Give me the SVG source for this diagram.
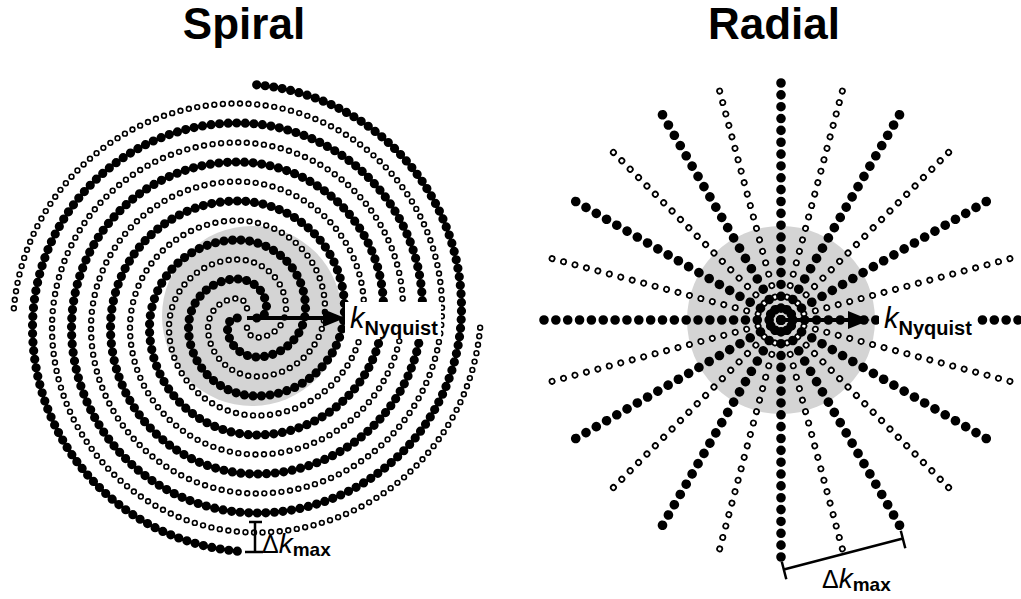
<svg xmlns="http://www.w3.org/2000/svg" xmlns:xlink="http://www.w3.org/1999/xlink" width="1021" height="599" viewBox="0 0 1021 599">
<style>
.title{font-family:"Liberation Sans",Arial,sans-serif;font-weight:bold;font-size:44px;text-anchor:middle;fill:#000}
.lbl{font-family:"Liberation Sans",Arial,sans-serif;fill:#000}
.it{font-style:italic}
.sub{font-weight:bold}
.disc{fill:#d4d4d4}
.f{fill:none;stroke:#000;stroke-width:9.2;stroke-linecap:round;stroke-dasharray:0 8.6}
.ho{fill:none;stroke:#000;stroke-width:6.4;stroke-linecap:round;stroke-dasharray:0 8.6}
.hi{fill:none;stroke:#fff;stroke-width:3.2;stroke-linecap:round;stroke-dasharray:0 8.6}
.rf{fill:none;stroke:#000;stroke-width:9.6;stroke-linecap:round;stroke-dasharray:0 11.85}
.rho{fill:none;stroke:#000;stroke-width:7;stroke-linecap:round;stroke-dasharray:0 11.85}
.rhi{fill:none;stroke:#fff;stroke-width:3.4;stroke-linecap:round;stroke-dasharray:0 11.85}
.arr{fill:none;stroke:#000;stroke-width:4;marker-end:url(#ah)}
.bar{fill:none;stroke:#000;stroke-width:2.5}
</style>
<defs>
<marker id="ah" markerUnits="userSpaceOnUse" markerWidth="26" markerHeight="20" refX="2" refY="9" orient="auto">
<path d="M0,0 L22,9 L0,18 Z" fill="#000"/>
</marker>
<path id="arm" d="M237.25,318 A9.75,9.75 0 0 0 227.5,327.75 A29.25,29.25 0 0 0 256.75,357 A48.75,48.75 0 0 0 305.5,308.25 A68.25,68.25 0 0 0 237.25,240 A87.75,87.75 0 0 0 149.5,327.75 A107.25,107.25 0 0 0 256.75,435 A126.75,126.75 0 0 0 383.5,308.25 A146.25,146.25 0 0 0 237.25,162 A165.75,165.75 0 0 0 71.5,327.75 A185.25,185.25 0 0 0 256.75,513 A204.75,204.75 0 0 0 461.5,308.25 A224.25,224.25 0 0 0 256,84.8"/>
<line id="spoke" x1="544" y1="320" x2="1018.3" y2="320"/>
</defs>
<rect width="1021" height="599" fill="#fff"/>

<g id="spiral-panel">
<text class="title" x="244" y="39">Spiral</text>
<circle class="disc" cx="252" cy="316" r="90"/>
<g id="spiral-arms">
<use xlink:href="#arm" class="ho" transform="rotate(90 247 318)"/>
<use xlink:href="#arm" class="hi" transform="rotate(90 247 318)"/>
<use xlink:href="#arm" class="ho" transform="rotate(-90 247 318)"/>
<use xlink:href="#arm" class="hi" transform="rotate(-90 247 318)"/>
<use xlink:href="#arm" class="f"/>
<use xlink:href="#arm" class="f" transform="rotate(180 247 318)"/>
</g>
<g id="spiral-delta">
<path class="bar" d="M255,522 V552 M249,522 H262 M245,552 H263"/>
<text class="lbl" x="262" y="553" font-size="25">Δ<tspan class="it" font-size="28">k</tspan><tspan class="sub" font-size="19" dy="3">max</tspan></text>
</g>
</g>

<g id="radial-panel">
<text class="title" x="774" y="39">Radial</text>
<circle class="disc" cx="781" cy="320" r="94"/>
<g id="radial-spokes">
<g transform="rotate(15 781 320)"><use xlink:href="#spoke" class="rho"/><use xlink:href="#spoke" class="rhi"/></g>
<g transform="rotate(45 781 320)"><use xlink:href="#spoke" class="rho"/><use xlink:href="#spoke" class="rhi"/></g>
<g transform="rotate(75 781 320)"><use xlink:href="#spoke" class="rho"/><use xlink:href="#spoke" class="rhi"/></g>
<g transform="rotate(105 781 320)"><use xlink:href="#spoke" class="rho"/><use xlink:href="#spoke" class="rhi"/></g>
<g transform="rotate(135 781 320)"><use xlink:href="#spoke" class="rho"/><use xlink:href="#spoke" class="rhi"/></g>
<g transform="rotate(165 781 320)"><use xlink:href="#spoke" class="rho"/><use xlink:href="#spoke" class="rhi"/></g>
<use xlink:href="#spoke" class="rf"/>
<use xlink:href="#spoke" class="rf" transform="rotate(30 781 320)"/>
<use xlink:href="#spoke" class="rf" transform="rotate(60 781 320)"/>
<use xlink:href="#spoke" class="rf" transform="rotate(90 781 320)"/>
<use xlink:href="#spoke" class="rf" transform="rotate(120 781 320)"/>
<use xlink:href="#spoke" class="rf" transform="rotate(150 781 320)"/>
</g>
<g id="radial-delta">
<path class="bar" d="M783.8,569.5 L902.8,538.5 M781.8,561.8 L786.3,579.2 M900.8,530.8 L905.3,548.2"/>
<text class="lbl" x="822" y="588" font-size="25">Δ<tspan class="it" font-size="28">k</tspan><tspan class="sub" font-size="19" dy="3">max</tspan></text>
</g>
</g>

<g id="connectors">
<line class="arr" x1="247" y1="318" x2="325" y2="318"/>
<line class="arr" x1="781" y1="320" x2="850" y2="320"/>
</g>

<g id="label-spiral-knyquist">
<rect x="345" y="302" width="96" height="37" fill="#fff"/>
<text class="lbl" x="350" y="328"><tspan class="it" font-size="29">k</tspan><tspan class="sub" font-size="20" dy="7">Nyquist</tspan></text>
</g>
<g id="label-radial-knyquist">
<rect x="879" y="302" width="97" height="38" fill="#fff"/>
<text class="lbl" x="884" y="328"><tspan class="it" font-size="29">k</tspan><tspan class="sub" font-size="20" dy="7">Nyquist</tspan></text>
</g>
</svg>
